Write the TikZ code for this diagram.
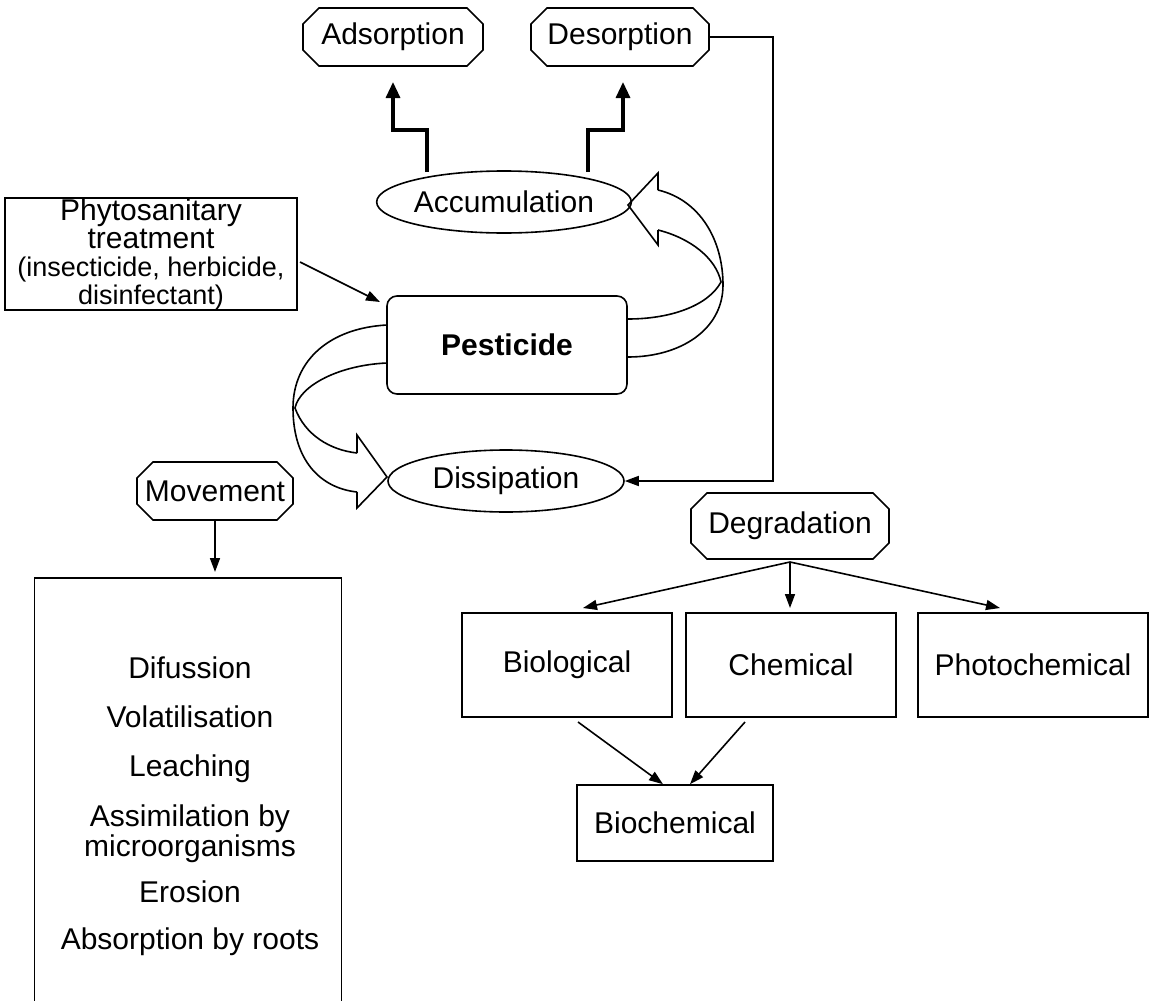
\documentclass[tikz,border=0pt]{standalone}
\usepackage{fontspec}
\setmainfont{Liberation Sans}
\usetikzlibrary{arrows.meta,positioning,calc,shapes.geometric,shapes.misc}

\tikzset{
  txt/.style={font=\fontsize{15}{13}\selectfont, align=center},
  octbox/.style={chamfered rectangle, chamfered rectangle xsep=4pt,
    chamfered rectangle ysep=4pt, draw, thick, txt, inner sep=0pt},
  ellbox/.style={ellipse, draw, thick, txt, inner sep=0pt},
  sqbox/.style={rectangle, draw, thick, txt, inner sep=0pt},
  thinarr/.style={thick, -{Triangle[length=7pt,width=5pt]}},
  fatarr/.style={line width=1.6pt, -{Triangle[length=8pt,width=7pt]}},
  hollow/.style={thick, line join=miter},
}

\begin{document}
\begin{tikzpicture}[x=0.5pt,y=-0.5pt]
  \useasboundingbox (0,0) rectangle (1157,1001);
  % top row
  \node[octbox, minimum width=90pt, minimum height=29pt] (ads) at (393,37) {Adsorption};
  \node[octbox, minimum width=89pt, minimum height=29pt] (des) at (620,37) {Desorption};
  % centre column
  \node[ellbox, minimum width=119pt, minimum height=31pt] (acc) at (504,202) {Accumulation};
  \node[sqbox, rounded corners=5pt, minimum width=120pt, minimum height=49pt,
    font=\fontsize{15}{18}\selectfont\bfseries] (pest) at (507,345) {Pesticide};
  \node[ellbox, minimum width=118pt, minimum height=31pt] (dis) at (506,481) {Dissipation};
  % treatment
  \node[sqbox, minimum width=146pt, minimum height=56pt,
    font=\fontsize{15}{14}\selectfont] (phyto) at (151,254)
    {Phytosanitary\\ treatment\\
     {\fontsize{13.5}{12.5}\selectfont (insecticide, herbicide,}\\
     {\fontsize{13.5}{12.5}\selectfont disinfectant)}};
  \coordinate (phyout) at (300,262);
  \coordinate (pcorner) at (380,302);
  \draw[thinarr] (phyout) -- (pcorner);
  % accumulation to adsorption / desorption
  \coordinate (accl) at (427,172);
  \coordinate (accr) at (588,172);
  \coordinate (adsin) at (393,82);
  \coordinate (desin) at (623,82);
  \draw[fatarr] (accl) |- (adsin |- 0,130) -- (adsin);
  \draw[fatarr] (accr) |- (desin |- 0,130) -- (desin);
  % desorption back to dissipation
  \draw[thinarr] (des.east) -- (773,37) |- (dis.east);
  % hollow arrow up to accumulation
  \draw[hollow] (658,190) .. controls (700,200) and (723,240) .. (723,285)
    .. controls (723,330) and (680,357) .. (628,357);
  \draw[hollow] (658,230) .. controls (690,238) and (716,258) .. (721,282)
    .. controls (708,306) and (670,319) .. (628,319);
  \draw[hollow] (658,190) -- (658,173) -- (628,205) -- (658,245) -- (658,230);
  % hollow arrow down to dissipation
  \draw[hollow] (387,325) .. controls (330,328) and (293,360) .. (293,408)
    .. controls (293,460) and (320,488) .. (357,492);
  \draw[hollow] (387,363) .. controls (340,365) and (300,385) .. (295,408)
    .. controls (305,435) and (330,450) .. (357,453);
  \draw[hollow] (357,453) -- (357,435) -- (387,477) -- (357,508) -- (357,492);
  % movement
  \node[octbox, minimum width=66pt, minimum height=29pt] (mov) at (215,491) {Movement};
  \node[sqbox, minimum width=153.5pt, minimum height=216pt, anchor=north] (movbox) at (188,577) {};
  \node[txt, font=\fontsize{15}{13.5}\selectfont] (movlist) at (190,806)
    {Difussion\\[11pt] Volatilisation\\[11pt] Leaching\\[10pt]
     Assimilation by\\ microorganisms\\[8pt] Erosion\\[10pt] Absorption by roots};
  \coordinate (movin) at (215,572);
  \draw[thinarr] (mov.south) -- (movin);
  % degradation
  \node[octbox, minimum width=99pt, minimum height=33pt] (deg) at (790,526) {Degradation};
  \node[sqbox, minimum width=105pt, minimum height=52pt] (bio) at (567,665) {Biological};
  \node[sqbox, minimum width=105pt, minimum height=52pt] (chem) at (791,665) {Chemical};
  \node[sqbox, minimum width=115pt, minimum height=52pt] (photo) at (1033,665) {Photochemical};
  \node[sqbox, minimum width=98pt, minimum height=38pt] (biochem) at (675,823) {Biochemical};
  \coordinate (dtop) at (790,562);
  \coordinate (bioin) at (583,608);
  \coordinate (chemin) at (790,608);
  \coordinate (photoin) at (1000,608);
  \coordinate (bioout) at (578,722);
  \coordinate (chemout) at (745,722);
  \draw[thinarr] (dtop) -- (bioin);
  \draw[thinarr] (dtop) -- (chemin);
  \draw[thinarr] (dtop) -- (photoin);
  \draw[thinarr] (bioout) -- (biochem.north -| 663,0);
  \draw[thinarr] (chemout) -- (biochem.north -| 690,0);
\end{tikzpicture}
\end{document}
